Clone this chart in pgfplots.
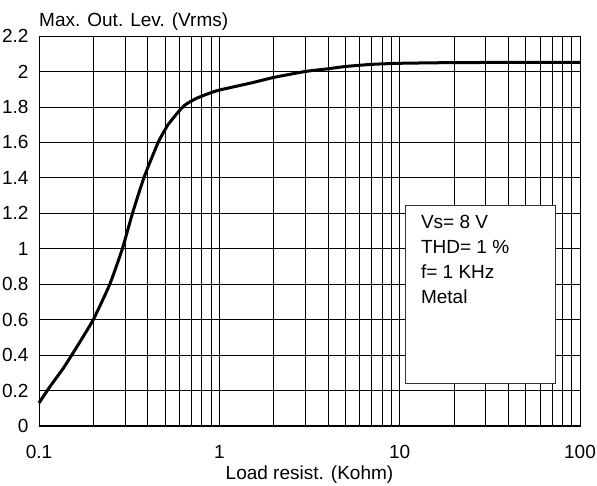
\documentclass[border=0pt]{standalone}
\usepackage{pgfplots}
\pgfplotsset{compat=1.18}
\usepackage{fontspec}
\setmainfont{Liberation Sans}
\begin{document}
\fontsize{19bp}{23bp}\selectfont
\begin{tikzpicture}
\useasboundingbox (-39bp,-60bp) rectangle (558bp,426bp);
\begin{axis}[
  at={(0,0)}, anchor=south west,
  width=541bp, height=390bp, scale only axis,
  xmode=log, xmin=0.1, xmax=100, ymin=0, ymax=2.2,
  xtick={0.1,1,10,100}, xticklabels={0.1,1,10,100},
  minor xtick={0.2,0.3,0.4,0.5,0.6,0.7,0.8,0.9,2,3,4,5,6,7,8,9,20,30,40,50,60,70,80,90},
  ytick={0,0.2,0.4,0.6,0.8,1,1.2,1.4,1.6,1.8,2,2.2},
  yticklabels={0,0.2,0.4,0.6,0.8,1,1.2,1.4,1.6,1.8,2,2.2},
  major tick length=0pt, minor tick length=0pt,
  grid=both,
  major grid style={black, line width=0.8bp},
  minor grid style={black, line width=0.8bp},
  axis line style={black, line width=0.8bp},
  ticklabel style={font=\fontsize{19bp}{23bp}\selectfont},
  xticklabel style={yshift=-13bp},
  yticklabel style={xshift=-4bp},
  xlabel={Load resist. (Kohm)},
  xlabel style={font=\fontsize{19bp}{23bp}\selectfont, at={(axis description cs:0.5,0)}, anchor=base, yshift=-53bp},
  clip=false,
]
\addplot[black, line width=3bp, smooth, tension=0.3] coordinates {
(0.1,0.13) (0.1146,0.22) (0.136,0.324) (0.161,0.441) (0.2,0.6)
(0.247,0.8) (0.29,1.0) (0.33,1.2) (0.3815,1.4) (0.458,1.6)
(0.52,1.7) (0.605,1.783) (0.658,1.817) (0.749,1.849)
(0.886,1.878) (1.0,1.895) (1.5,1.935) (2,1.966) (3,2.0) (4,2.015)
(5,2.028) (7,2.04) (10,2.046) (20,2.05) (50,2.051) (100,2.051)
};
\draw[line width=2bp] (rel axis cs:0,0) -- (rel axis cs:1,0);
\draw[draw=black!80, line width=0.8bp, fill=white] (axis cs:10.8,0.243) rectangle (axis cs:72.6,1.244);
\node[anchor=north west, align=left, inner sep=0pt, font=\fontsize{19bp}{25bp}\selectfont]
  at (axis cs:13.1,1.19) {Vs= 8 V\\THD= 1 \%\\f= 1 KHz\\Metal};
\node[anchor=base west, inner sep=0pt, font=\fontsize{19bp}{23bp}\selectfont]
  at ([yshift=9bp]rel axis cs:0,1) {Max. Out. Lev. (Vrms)};
\end{axis}
\end{tikzpicture}
\end{document}
